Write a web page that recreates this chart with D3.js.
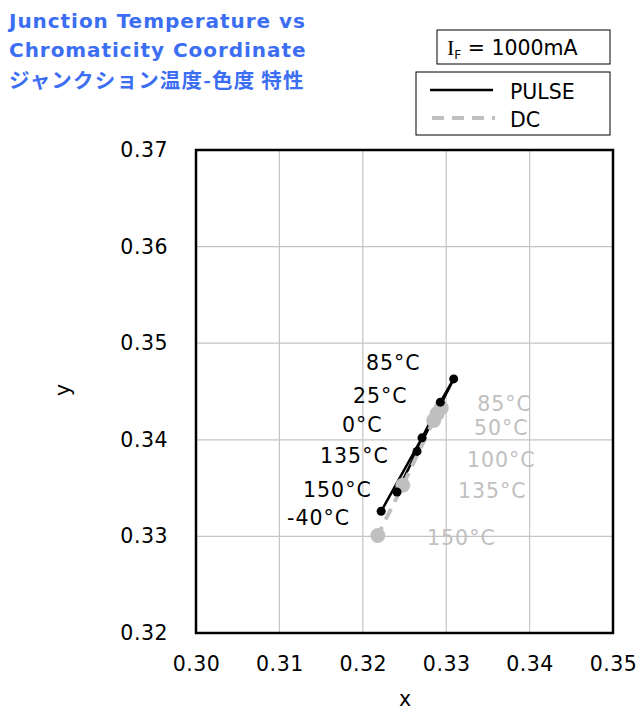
<!DOCTYPE html>
<html><head><meta charset="utf-8">
<script src="https://cdn.jsdelivr.net/npm/d3@7"></script>
<style>body{margin:0;background:#fff}</style>
</head><body>
<svg id="c" width="638" height="713"></svg>
<script>
// ---- data ----
const xTicks = [0.30, 0.31, 0.32, 0.33, 0.34, 0.35];
const yTicks = [0.32, 0.33, 0.34, 0.35, 0.36, 0.37];
const pulseTemps = [-40, 0, 25, 85, 135, 150];
const pulseX = [0.3222, 0.3271, 0.3293, 0.3309, 0.3265, 0.3241];
const pulseY = [0.3326, 0.3402, 0.3439, 0.3463, 0.3388, 0.3346];
const dcTemps = [50, 85, 100, 135, 150];
const dcX = [0.3289, 0.3294, 0.3285, 0.3248, 0.3218];
const dcY = [0.3427, 0.3433, 0.3420, 0.3353, 0.3301];
const pulseLabels = ["85°C", "25°C", "0°C", "135°C", "150°C", "-40°C"];
const dcLabels = ["85°C", "50°C", "100°C", "135°C", "150°C"];
const titleLines = ["Junction Temperature vs", "Chromaticity Coordinate"];
const titleJa = "ジャンクション温度-色度 特性";

// label anchors (data coords, text start / baseline)
const pulseLabelPos = [[0.32038,0.34723],[0.31883,0.34381],[0.31751,0.34081],[0.31487,0.33760],[0.31283,0.33408],[0.31091,0.33118]];
const dcLabelPos = [[0.33372,0.34298],[0.33333,0.34050],[0.33249,0.33718],[0.33141,0.33398],[0.32770,0.32911]];

const svg = d3.select("#c");
const font = "DejaVu Sans, Verdana, sans-serif";
const L = 196, R = 613, T = 150, B = 633;
const x = d3.scaleLinear().domain([0.30, 0.35]).range([L, R]);
const y = d3.scaleLinear().domain([0.32, 0.37]).range([B, T]);

// grid
svg.append("g").selectAll("line.v").data(xTicks.slice(1, -1)).join("line")
  .attr("x1", d => x(d)).attr("x2", d => x(d)).attr("y1", T).attr("y2", B)
  .attr("stroke", "#c4c4c4").attr("stroke-width", 1.2);
svg.append("g").selectAll("line.h").data(yTicks.slice(1, -1)).join("line")
  .attr("y1", d => y(d)).attr("y2", d => y(d)).attr("x1", L).attr("x2", R)
  .attr("stroke", "#c4c4c4").attr("stroke-width", 1.2);

// axes via d3 axis (labels only)
const xAxis = svg.append("g").attr("transform", `translate(0,${B})`)
  .call(d3.axisBottom(x).tickValues(xTicks).tickFormat(d3.format(".2f")).tickSize(0).tickPadding(23));
const yAxis = svg.append("g").attr("transform", `translate(${L},0)`)
  .call(d3.axisLeft(y).tickValues(yTicks).tickFormat(d3.format(".2f")).tickSize(0).tickPadding(28));
[xAxis, yAxis].forEach(a => {
  a.select(".domain").remove();
  a.selectAll("text").attr("font-family", font).attr("font-size", 20.5)
    .attr("letter-spacing", 0.5).attr("fill", "#000");
});

// frame
svg.append("rect").attr("x", L).attr("y", T).attr("width", R - L).attr("height", B - T)
  .attr("fill", "none").attr("stroke", "#000").attr("stroke-width", 2.5);

// axis titles
svg.append("text").attr("x", 405).attr("y", 706).attr("text-anchor", "middle")
  .attr("font-family", font).attr("font-size", 20.5).text("x");
svg.append("text").attr("transform", "translate(70,390) rotate(-90)").attr("text-anchor", "middle")
  .attr("font-family", font).attr("font-size", 20.5).text("y");

// series
const pulse = pulseTemps.map((t, i) => ({t, x: pulseX[i], y: pulseY[i]}));
const dc = dcTemps.map((t, i) => ({t, x: dcX[i], y: dcY[i]}));
const line = d3.line().x(d => x(d.x)).y(d => y(d.y));

svg.append("path").datum(pulse).attr("d", line).attr("fill", "none")
  .attr("stroke", "#000").attr("stroke-width", 2.5);

svg.append("path").datum(dc).attr("d", line).attr("fill", "none")
  .attr("stroke", "#c0c0c0").attr("stroke-width", 4).attr("stroke-dasharray", "12,8");
svg.append("g").selectAll("circle").data(dc).join("circle")
  .attr("cx", d => x(d.x)).attr("cy", d => y(d.y)).attr("r", 7.5).attr("fill", "#c0c0c0");

svg.append("g").selectAll("circle").data(pulse).join("circle")
  .attr("cx", d => x(d.x)).attr("cy", d => y(d.y)).attr("r", 4.5).attr("fill", "#000");

// labels
svg.append("g").selectAll("text").data(pulseLabels).join("text")
  .attr("x", (d, i) => x(pulseLabelPos[i][0])).attr("y", (d, i) => y(pulseLabelPos[i][1]))
  .attr("font-family", font).attr("font-size", 20.5).attr("letter-spacing", 1)
  .attr("fill", "#000").text(d => d);
svg.append("g").selectAll("text").data(dcLabels).join("text")
  .attr("x", (d, i) => x(dcLabelPos[i][0])).attr("y", (d, i) => y(dcLabelPos[i][1]))
  .attr("font-family", font).attr("font-size", 20.5).attr("letter-spacing", 1)
  .attr("fill", "#c0c0c0").text(d => d);

// title
const blue = "#3b6ef2";
titleLines.forEach((t, i) => svg.append("text").attr("x", 9).attr("y", 28 + i * 29)
  .attr("font-family", font).attr("font-weight", "bold").attr("font-size", 20)
  .attr("letter-spacing", 0.95).attr("fill", blue).text(t));
svg.append("text").attr("x", 9).attr("y", 88).attr("font-family", "Noto Sans CJK JP, sans-serif")
  .attr("font-weight", "bold").attr("font-size", 20.5).attr("letter-spacing", 1.2)
  .attr("fill", blue).text(titleJa);

// IF box
svg.append("rect").attr("x", 437).attr("y", 30).attr("width", 173).attr("height", 34)
  .attr("fill", "#fff").attr("stroke", "#000").attr("stroke-width", 1);
const ift = svg.append("text").attr("x", 447).attr("y", 55).attr("font-family", font).attr("font-size", 20.5);
ift.append("tspan").attr("font-family", "Liberation Serif, serif").attr("font-size", 22).text("I");
ift.append("tspan").attr("font-size", 12).attr("dy", 4).text("F");
ift.append("tspan").attr("dy", -4).text(" = 1000mA");

// legend
svg.append("rect").attr("x", 416).attr("y", 72).attr("width", 194).attr("height", 63)
  .attr("fill", "#fff").attr("stroke", "#000").attr("stroke-width", 1);
svg.append("line").attr("x1", 430).attr("x2", 493).attr("y1", 90).attr("y2", 90)
  .attr("stroke", "#000").attr("stroke-width", 2.5);
svg.append("line").attr("x1", 432).attr("x2", 495).attr("y1", 118).attr("y2", 118)
  .attr("stroke", "#c0c0c0").attr("stroke-width", 4).attr("stroke-dasharray", "12,8");
svg.append("text").attr("x", 510).attr("y", 99).attr("font-family", font).attr("font-size", 20.5).text("PULSE");
svg.append("text").attr("x", 510).attr("y", 127).attr("font-family", font).attr("font-size", 20.5).text("DC");
</script>
</body></html>
